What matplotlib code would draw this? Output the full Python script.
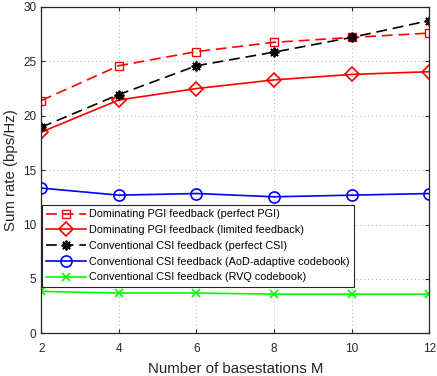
import matplotlib
matplotlib.use("Agg")
import matplotlib.pyplot as plt

plt.rcParams['font.family'] = ['Liberation Sans', 'DejaVu Sans']

M = [2, 4, 6, 8, 10, 12]
pgi_perfect = [21.4, 24.6, 25.9, 26.75, 27.2, 27.6]
pgi_limited = [18.5, 21.45, 22.5, 23.3, 23.8, 24.05]
csi_perfect = [18.95, 21.95, 24.6, 25.85, 27.2, 28.75]
csi_aod = [13.35, 12.7, 12.85, 12.55, 12.7, 12.85]
csi_rvq = [3.85, 3.7, 3.7, 3.6, 3.6, 3.6]

labels = [
    'Dominating PGI feedback (perfect PGI)',
    'Dominating PGI feedback (limited feedback)',
    'Conventional CSI feedback (perfect CSI)',
    'Conventional CSI feedback (AoD-adaptive codebook)',
    'Conventional CSI feedback (RVQ codebook)',
]
xticks = [2, 4, 6, 8, 10, 12]
yticks = [0, 5, 10, 15, 20, 25, 30]

fig = plt.figure(figsize=(4.37, 3.76), dpi=100)
ax = fig.add_axes([0.0945, 0.1136, 0.8875, 0.8678])

lw = 1.2
dash = (0, (6.5, 3.5))
ax.plot(M, pgi_perfect, color='#ff0000', linestyle=dash, lw=lw, marker='s',
        markersize=6, markerfacecolor='none', markeredgewidth=1.0, label=labels[0])
ax.plot(M, pgi_limited, color='#ff0000', linestyle='-', lw=lw, marker='D',
        markersize=7.5, markerfacecolor='none', markeredgewidth=1.2, label=labels[1])
ax.plot(M, csi_perfect, color='black', linestyle=dash, lw=lw, marker=(8, 2, 0),
        markersize=7, markeredgewidth=1.3, label=labels[2])
ax.plot(M, csi_aod, color='#0000ff', linestyle='-', lw=lw, marker='o',
        markersize=8, markerfacecolor='none', markeredgewidth=1.2, label=labels[3])
ax.plot(M, csi_rvq, color='#00ff00', linestyle='-', lw=lw, marker='x',
        markersize=6, markeredgewidth=1.2, label=labels[4])

ax.set_xlim(2, 12)
ax.set_ylim(0, 30)
ax.set_xticks(xticks)
ax.set_yticks(yticks)
ax.tick_params(direction='in', length=3, width=0.8, labelsize=8.5, colors='#262626',
               top=True, right=True)
ax.tick_params(axis='x', pad=7)
for lab in ax.get_xticklabels() + ax.get_yticklabels():
    lab.set_color('#262626')
ax.grid(True, linestyle=(0, (1, 3)), color='#b0b0b0', linewidth=0.7)
for s in ax.spines.values():
    s.set_linewidth(0.9)
    s.set_color('#262626')

ax.set_xlabel('Number of basestations M', fontsize=10.8, color='#262626', labelpad=5)
ax.set_ylabel('Sum rate (bps/Hz)', fontsize=10.8, color='#262626', labelpad=4)

leg = ax.legend(loc='upper left', bbox_to_anchor=(0.001, 0.393), borderaxespad=0,
                fontsize=7.8, frameon=True, fancybox=False, framealpha=1,
                edgecolor='#262626', handlelength=3.7, handletextpad=0.3,
                labelspacing=0.53, borderpad=0.4, numpoints=1)
leg.get_frame().set_linewidth(0.8)

fig.savefig('out.png', dpi=100)
